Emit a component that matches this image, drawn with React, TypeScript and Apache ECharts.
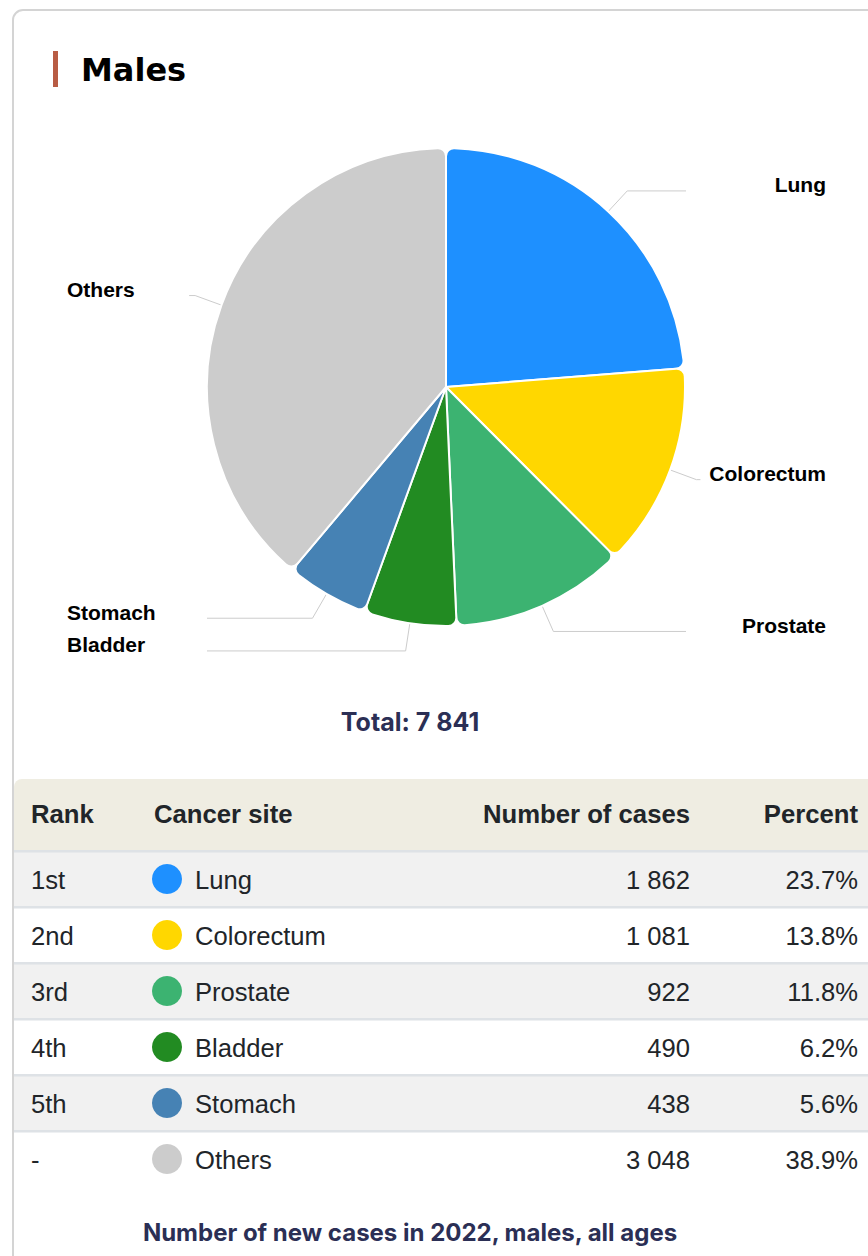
import React, { useEffect, useRef } from 'react';
import * as echarts from 'echarts';

// ---- data ----
const sites: string[] = ['Lung', 'Colorectum', 'Prostate', 'Bladder', 'Stomach', 'Others'];
const cases: number[] = [1862, 1081, 922, 490, 438, 3048];
const ranks: string[] = ['1st', '2nd', '3rd', '4th', '5th', '-'];
const colors: string[] = ['#1e90ff', '#ffd700', '#3cb371', '#228b22', '#4682b4', '#cccccc'];
const headers: string[] = ['Rank', 'Cancer site', 'Number of cases', 'Percent'];
const titleText = 'Males';
const footerText = 'Number of new cases in 2022, males, all ages';

const fmt = (n: number) => String(n).replace(/\B(?=(\d{3})+(?!\d))/g, ' ');

const W = 868;
const H = 1256;

export default function App() {
  const ref = useRef<HTMLDivElement>(null);

  useEffect(() => {
    if (!ref.current) return;
    const chart = echarts.init(ref.current, undefined, { renderer: 'svg' });
    const total = cases.reduce((a, b) => a + b, 0);
    const cx = 446;
    const cy = 387;

    const sans = 'Liberation Sans, Arial, sans-serif';
    const textDark = '#212529';
    const navy = '#2b2f55';

    const headerTop = 779;
    const headerH = 72;
    const rowH = 56;
    const rowTop = headerTop + headerH;
    const colRank = 31;
    const colSite = 154;
    const colDot = 167;
    const colName = 195;
    const colNum = 690;
    const colPct = 858;

    const graphics: any[] = [];
    // card
    graphics.push({
      type: 'rect', z: -10,
      shape: { x: 13, y: 10, width: 900, height: 1300, r: 10 },
      style: { fill: '#ffffff', stroke: '#d4d4d4', lineWidth: 2 },
    });
    // title
    graphics.push({ type: 'rect', shape: { x: 53, y: 51, width: 5, height: 36 }, style: { fill: '#b85c44' } });
    graphics.push({
      type: 'text', x: 81, y: 70,
      style: { text: titleText, fill: '#000', font: 'bold 32px "DejaVu Sans", sans-serif', verticalAlign: 'middle', align: 'left' },
    });
    // total
    graphics.push({
      type: 'text', x: 410, y: 722,
      style: { text: 'Total: ' + fmt(total), fill: navy, font: 'bold 25px Inter, sans-serif', align: 'center', verticalAlign: 'middle' },
    });
    // table header
    graphics.push({
      type: 'rect',
      shape: { x: 14, y: headerTop, width: 870, height: headerH, r: [8, 0, 0, 0] },
      style: { fill: '#efede2' },
    });
    const hy = headerTop + 35;
    const hfont = 'bold 25.7px ' + sans;
    graphics.push({ type: 'text', x: colRank, y: hy, style: { text: headers[0], font: hfont, fill: textDark, align: 'left', verticalAlign: 'middle' } });
    graphics.push({ type: 'text', x: colSite, y: hy, style: { text: headers[1], font: hfont, fill: textDark, align: 'left', verticalAlign: 'middle' } });
    graphics.push({ type: 'text', x: colNum, y: hy, style: { text: headers[2], font: hfont, fill: textDark, align: 'right', verticalAlign: 'middle' } });
    graphics.push({ type: 'text', x: colPct, y: hy, style: { text: headers[3], font: hfont, fill: textDark, align: 'right', verticalAlign: 'middle' } });

    const bfont = '25.6px ' + sans;
    sites.forEach((s, i) => {
      const top = rowTop + i * rowH;
      graphics.push({
        type: 'rect', shape: { x: 14, y: top, width: 870, height: rowH },
        style: { fill: i % 2 === 0 ? '#f1f1f1' : '#ffffff' },
      });
      graphics.push({
        type: 'rect', shape: { x: 14, y: top - 1, width: 870, height: 2.5 },
        style: { fill: '#dee2e6' },
      });
      const ty = top + 29;
      graphics.push({ type: 'text', x: colRank, y: ty, style: { text: ranks[i], font: bfont, fill: textDark, align: 'left', verticalAlign: 'middle' } });
      graphics.push({ type: 'circle', shape: { cx: colDot, cy: ty - 1, r: 15 }, style: { fill: colors[i] } });
      graphics.push({ type: 'text', x: colName, y: ty, style: { text: s, font: bfont, fill: textDark, align: 'left', verticalAlign: 'middle' } });
      graphics.push({ type: 'text', x: colNum, y: ty, style: { text: fmt(cases[i]), font: bfont, fill: textDark, align: 'right', verticalAlign: 'middle' } });
      graphics.push({ type: 'text', x: colPct, y: ty, style: { text: ((cases[i] / total) * 100).toFixed(1) + '%', font: bfont, fill: textDark, align: 'right', verticalAlign: 'middle' } });
    });
    // footer
    graphics.push({
      type: 'text', x: 410, y: 1232,
      style: { text: footerText, fill: navy, font: 'bold 24px Inter, sans-serif', align: 'center', verticalAlign: 'middle' },
    });

    chart.setOption({
      animation: false,
      graphic: { elements: graphics },
      series: [
        {
          type: 'pie',
          center: [cx, cy],
          radius: 239,
          startAngle: 90,
          clockwise: true,
          avoidLabelOverlap: true,
          itemStyle: { borderColor: '#ffffff', borderWidth: 2, borderRadius: 8 },
          label: {
            show: true,
            position: 'outside',
            formatter: '{b}',
            fontFamily: sans,
            fontWeight: 'bold',
            fontSize: 21,
            color: '#000000',
          },
          labelLine: {
            show: true,
            length: 28,
            length2: 10,
            smooth: false,
            lineStyle: { color: '#cccccc', width: 1 },
          },
          labelLayout: (p: any) => {
            const pts = p.labelLinePoints;
            if (!pts) return {};
            const right = pts[2][0] > cx;
            const y = pts[1][1];
            const endX = right ? Math.max(686, pts[1][0] + 4) : Math.min(207, pts[1][0] - 6);
            return {
              x: right ? 826 : 67,
              y: y - 6,
              align: right ? 'right' : 'left',
              verticalAlign: 'middle',
              labelLinePoints: [[pts[0][0], pts[0][1]], [pts[1][0], pts[1][1]], [endX, y]],
            };
          },
          emphasis: { disabled: true },
          data: sites.map((s, i) => ({ name: s, value: cases[i], itemStyle: { color: colors[i] } })),
        },
      ],
    });
    return () => chart.dispose();
  }, []);

  return <div ref={ref} style={{ position: 'absolute', left: 0, top: 0, width: W, height: H }} />;
}
